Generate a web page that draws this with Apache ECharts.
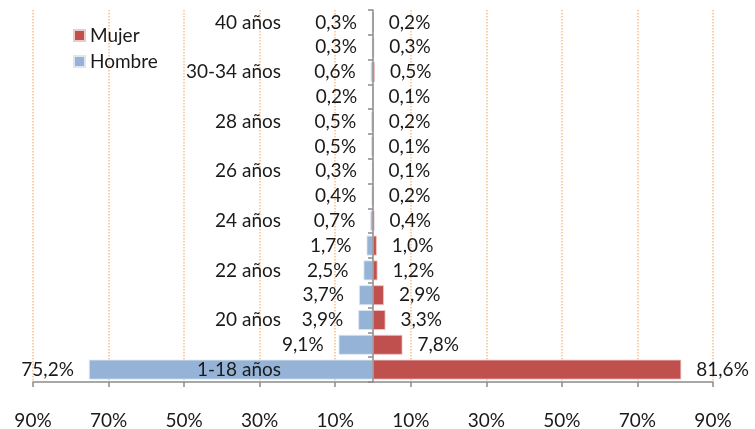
<!DOCTYPE html>
<html style="height: 100%">
<head>
    <meta charset="utf-8">
</head>
<body style="height: 100%; margin: 0; background: #fff">
<div id="container" style="width: 755px; height: 429px"></div>
<script type="text/javascript" src="https://cdn.jsdelivr.net/npm/echarts@6/dist/echarts.min.js"></script>
<script type="text/javascript">
// categories, bottom to top
var categories = ['1-18 años', '19 años', '20 años', '21 años', '22 años', '23 años', '24 años',
    '25 años', '26 años', '27 años', '28 años', '29 años', '30-34 años', '35-39 años', '40 años'];
// percentages per category
var hombre = [75.2, 9.1, 3.9, 3.7, 2.5, 1.7, 0.7, 0.4, 0.3, 0.5, 0.5, 0.2, 0.6, 0.3, 0.3];
var mujer = [81.6, 7.8, 3.3, 2.9, 1.2, 1.0, 0.4, 0.2, 0.1, 0.1, 0.2, 0.1, 0.5, 0.3, 0.2];

var font = 'Lato, "Liberation Sans", sans-serif';
var txt = '#1a1a1a';
var fs = 19;

function pct(v) {
    return Math.abs(v).toFixed(1).replace('.', ',') + '%';
}

var dom = document.getElementById('container');
var myChart = echarts.init(dom);

var option = {
    animation: false,
    textStyle: {fontFamily: font},
    legend: {
        data: ['Mujer', 'Hombre'],
        orient: 'vertical',
        left: 68,
        top: 21,
        itemWidth: 11,
        itemHeight: 11,
        itemGap: 7,
        icon: 'rect',
        textStyle: {fontSize: fs, color: txt, fontFamily: font}
    },
    grid: {left: 33, right: 42, top: 10, bottom: 47, containLabel: false, outerBoundsMode: 'none'},
    xAxis: {
        type: 'value',
        min: -90,
        max: 90,
        interval: 20,
        axisLine: {show: true, onZero: false, lineStyle: {color: '#8c8c8c', width: 1.5}},
        axisTick: {show: true, length: 5, lineStyle: {color: '#8c8c8c', width: 1.5}},
        axisLabel: {
            margin: 29,
            fontSize: fs,
            color: txt,
            formatter: function (v) { return Math.abs(v) + '%'; }
        },
        splitLine: {show: true, lineStyle: {color: '#fbbf8c', type: 'dotted', width: 1.5}}
    },
    yAxis: {
        type: 'category',
        data: categories,
        z: 5,
        axisLine: {show: true, onZero: true, lineStyle: {color: '#8c8c8c', width: 1.5}},
        axisTick: {show: true, interval: 0, length: 5, lineStyle: {color: '#8c8c8c', width: 1.5}},
        axisLabel: {interval: 1, margin: -248, align: 'right', fontSize: fs, color: txt}
    },
    series: [{
        name: 'Hombre',
        type: 'bar',
        data: hombre.map(function (v) { return -v; }),
        barGap: '-100%',
        barCategoryGap: '20%',
        itemStyle: {color: '#95b3d7', borderColor: '#dde6f1', borderWidth: 0.8},
        label: {
            show: true,
            position: 'left',
            distance: 15,
            fontSize: fs,
            color: txt,
            formatter: function (p) { return pct(p.value); }
        }
    }, {
        name: 'Mujer',
        type: 'bar',
        data: mujer,
        barGap: '-100%',
        barCategoryGap: '20%',
        itemStyle: {color: '#c0504d', borderColor: '#eccac9', borderWidth: 0.8},
        label: {
            show: true,
            position: 'right',
            distance: 15,
            fontSize: fs,
            color: txt,
            formatter: function (p) { return pct(p.value); }
        }
    }]
};

myChart.setOption(option);
</script>
</body>
</html>
